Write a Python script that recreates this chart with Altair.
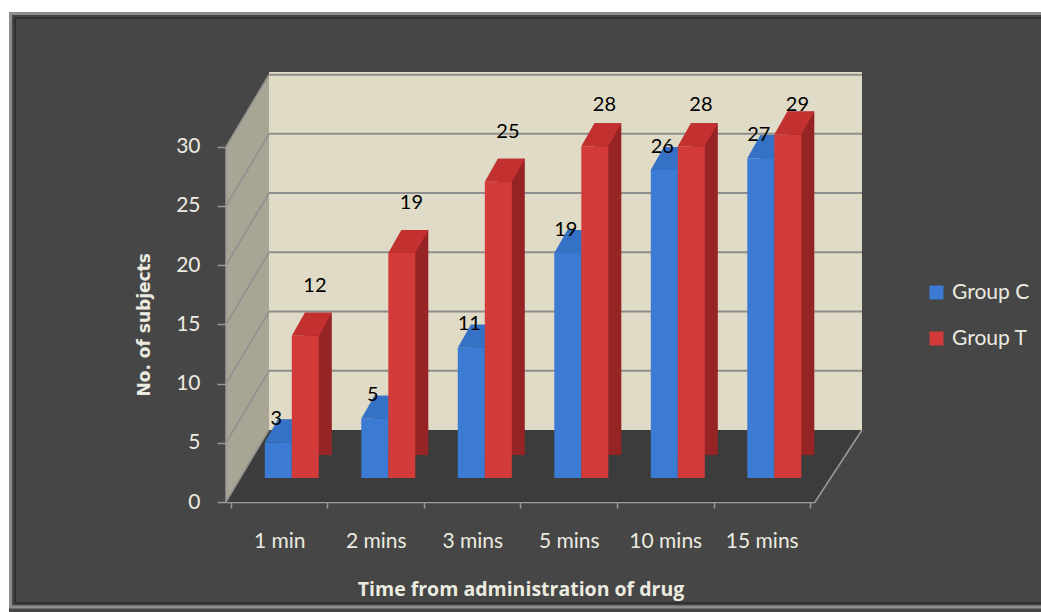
import altair as alt
import pandas as pd

# Number of subjects at each time point after drug administration
times = ["1 min", "2 mins", "3 mins", "5 mins", "10 mins", "15 mins"]
group_c = [3, 5, 11, 19, 26, 27]
group_t = [12, 19, 25, 28, 28, 29]
groups = ["Group C", "Group T"]
y_ticks = [0, 5, 10, 15, 20, 25, 30]

rows = []
for i, (t, c, tt) in enumerate(zip(times, group_c, group_t)):
    rows.append({"idx": i, "time": t, "group": "Group C", "value": c})
    rows.append({"idx": i, "time": t, "group": "Group T", "value": tt})
df = pd.DataFrame(rows)
ticks_df = pd.DataFrame({"tick": y_ticks})

# ---- layout (pixels) ----
CW, CH = 1041, 612
LEFT, TOP = 226, 72
W, H = 589, 430
Y_MAX = 36.3
DEPTH_X, DEPTH_Y = 43, 72          # depth of the back wall
BAR_LIFT = 24                       # bars stand part way into the floor
BAR_W = 27
EXT_X, EXT_Y = 13, 23               # bar extrusion
FONT = "Lato"

COLORS = {"Group C": "#3b7bd3", "Group T": "#d23b39"}
SIDE = {"Group C": "#2a5b9f", "Group T": "#962424"}
TOPC = {"Group C": "#3571c4", "Group T": "#c23130"}

x_scale = alt.Scale(domain=[0, len(times)], nice=False, zero=False)
y_scale = alt.Scale(domain=[0, Y_MAX], nice=False)

label_expr = (
    "datum.value % 1 == 0.5 ? "
    + "[" + ",".join("'" + t + "'" for t in times) + "][floor(datum.value)] : ''"
)

x_axis = alt.Axis(
    title="Time from administration of drug",
    values=[k / 2 for k in range(0, 2 * len(times) + 1)],
    labelExpr=label_expr,
    tickOpacity={"condition": {"test": "datum.value % 1 != 0", "value": 0}, "value": 1},
    tickSize=6,
    grid=False,
    labelPadding=22,
    titlePadding=29,
    titleFont="Open Sans",
    titleFontSize=19.5,
)
y_axis = alt.Axis(
    title="No. of subjects",
    values=y_ticks,
    tickSize=9,
    labelPadding=17,
    domain=False,
    grid=False,
    titlePadding=22,
    titleY=H - 15 * H / Y_MAX,
    titleFont="DejaVu Sans",
    titleFontSize=17,
)

base = alt.Chart(df).transform_calculate(
    pos="datum.idx + (datum.group == 'Group C' ? 0.49 : 0.77)"
)

color_enc = alt.Color(
    "group:N",
    sort=groups,
    scale=alt.Scale(domain=groups, range=[COLORS[g] for g in groups]),
    legend=alt.Legend(
        title=None,
        orient="none",
        legendX=700,
        legendY=210,
        padding=0,
        symbolType="square",
        symbolSize=196,
        symbolStrokeWidth=0,
        labelFontSize=21,
        labelColor="#ecebe0",
        labelFont=FONT,
        labelOffset=5,
        rowPadding=24,
    ),
)


def bar_layers(g):
    sub = base.transform_filter(alt.datum.group == g)
    side = sub.mark_bar(
        width=BAR_W, color=SIDE[g],
        xOffset=EXT_X, yOffset=-BAR_LIFT - EXT_Y, y2Offset=-BAR_LIFT - 8,
    ).encode(
        x=alt.X("pos:Q", scale=x_scale, axis=x_axis),
        y=alt.Y("value:Q", scale=y_scale, axis=y_axis),
    )
    front = sub.mark_bar(
        width=BAR_W, yOffset=-BAR_LIFT, y2Offset=-BAR_LIFT
    ).encode(
        x=alt.X("pos:Q", scale=x_scale),
        y=alt.Y("value:Q", scale=y_scale),
        color=color_enc,
    )
    h = BAR_W / 2
    top_path = f"M {-h} 0 L {h} 0 L {h + EXT_X} {-EXT_Y} L {-h + EXT_X} {-EXT_Y} Z"
    top = sub.mark_point(
        shape=top_path, size=4, filled=True, opacity=1, strokeWidth=0,
        color=TOPC[g], yOffset=-BAR_LIFT,
    ).encode(
        x=alt.X("pos:Q", scale=x_scale),
        y=alt.Y("value:Q", scale=y_scale),
    )
    return [side, front, top]


labels = base.transform_calculate(
    lx="datum.idx + (datum.group == 'Group C' ? 0.47 : 0.87)",
    ly="datum.group == 'Group C' ? datum.value + 4 : min(datum.value + 6.2, 33.5)",
).mark_text(fontSize=20, font=FONT, color="#000000", baseline="middle").encode(
    x=alt.X("lx:Q", scale=x_scale),
    y=alt.Y("ly:Q", scale=y_scale),
    text="value:Q",
)

# ---- frame and 3-D walls ----
one = alt.Data(values=[{"k": 0}])
top_strip = alt.Chart(one).mark_rect(color="white").encode(
    x=alt.value(-LEFT), x2=alt.value(CW - LEFT),
    y=alt.value(-TOP), y2=alt.value(-TOP + 12),
)
left_strip = alt.Chart(one).mark_rect(color="white").encode(
    x=alt.value(-LEFT), x2=alt.value(-LEFT + 9),
    y=alt.value(-TOP), y2=alt.value(CH - TOP),
)
frame_outer = alt.Chart(one).mark_rect(
    fillOpacity=0, stroke="#8d8d8d", strokeWidth=3
).encode(
    x=alt.value(-LEFT + 10.5), x2=alt.value(CW - LEFT + 20),
    y=alt.value(-TOP + 13.5), y2=alt.value(607 - TOP),
)
frame_inner = alt.Chart(one).mark_rect(
    fillOpacity=0, stroke="#303030", strokeWidth=2
).encode(
    x=alt.value(-LEFT + 15), x2=alt.value(CW - LEFT + 20),
    y=alt.value(-TOP + 18), y2=alt.value(603 - TOP),
)
back_wall = alt.Chart(one).mark_rect(color="#dfdbc6").encode(
    x=alt.value(DEPTH_X), x2=alt.value(W + DEPTH_X + 4),
    y=alt.value(0), y2=alt.value(H - DEPTH_Y),
)
y30 = H - 30 * H / Y_MAX
side_wall = alt.Chart(one).mark_point(
    shape=f"M 0 {y30:.1f} L {DEPTH_X} {y30 - DEPTH_Y:.1f} L {DEPTH_X} {H - DEPTH_Y} L 0 {H} Z",
    size=4, filled=True, opacity=1, strokeWidth=0, color="#a8a595",
).encode(x=alt.value(0), y=alt.value(0))
floor = alt.Chart(one).mark_point(
    shape=f"M 0 {H} L {DEPTH_X} {H - DEPTH_Y} L {W + DEPTH_X + 4} {H - DEPTH_Y} L {W} {H} Z",
    size=4, filled=True, opacity=1, strokeWidth=0, color="#3c3c3c",
).encode(x=alt.value(0), y=alt.value(0))

GRID = "#8e8e8e"
back_grid = alt.Chart(ticks_df).transform_filter("datum.tick > 0").mark_rule(
    color=GRID, strokeWidth=2, yOffset=-DEPTH_Y
).encode(
    y=alt.Y("tick:Q", scale=y_scale),
    x=alt.value(DEPTH_X), x2=alt.value(W + DEPTH_X + 4),
)
side_grid = alt.Chart(ticks_df).mark_rule(
    color=GRID, strokeWidth=1.5, y2Offset=-DEPTH_Y
).encode(
    y=alt.Y("tick:Q", scale=y_scale),
    y2=alt.Y2("tick:Q"),
    x=alt.value(0), x2=alt.value(DEPTH_X),
)
front_edge = alt.Chart(one).mark_rule(color="#9a9a9a", strokeWidth=1.5).encode(
    x=alt.value(0),
    y=alt.datum(0, scale=y_scale),
    y2=alt.datum(30),
)
floor_edge = alt.Chart(one).mark_rule(color="#9a9a9a", strokeWidth=1.5).encode(
    x=alt.value(W), x2=alt.value(W + DEPTH_X + 4),
    y=alt.value(H), y2=alt.value(H - DEPTH_Y),
)

chart = (
    alt.layer(
        top_strip, left_strip, frame_outer, frame_inner,
        back_wall, side_wall, floor, back_grid, side_grid, front_edge, floor_edge,
        *bar_layers("Group C"), *bar_layers("Group T"), labels,
    )
    .properties(
        width=W,
        height=H,
        autosize=alt.AutoSizeParams(type="none"),
        padding={"left": LEFT, "top": TOP, "right": CW - LEFT - W, "bottom": CH - TOP - H},
        background="#464646",
    )
    .configure_view(fill="transparent", stroke="transparent")
    .configure_axis(
        labelFont=FONT,
        labelFontSize=21,
        labelColor="#ecebe0",
        titleFontWeight="bold",
        titleColor="#ecebe0",
        domainColor="#9a9a9a",
        domainWidth=1.5,
        tickColor="#9a9a9a",
        tickWidth=1.5,
    )
)

chart.save("out.html", embed_options={"renderer": "svg", "actions": False})
